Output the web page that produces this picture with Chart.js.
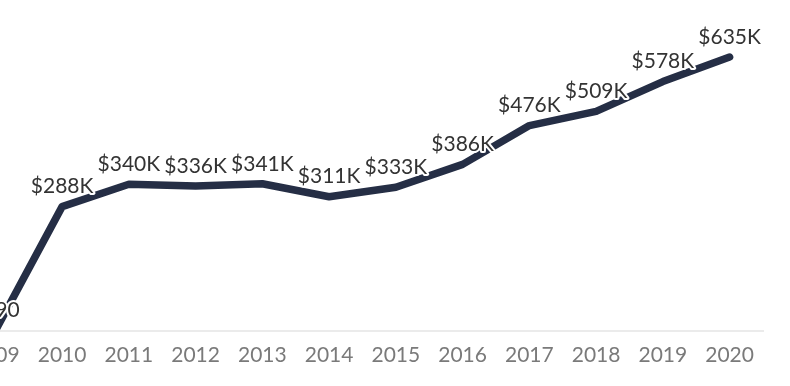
<!DOCTYPE html>
<html>
<head>
<meta charset="utf-8">
<script src="https://cdn.jsdelivr.net/npm/chart.js@4.4.1/dist/chart.umd.min.js"></script>
<style>
  html, body { margin: 0; padding: 0; overflow: hidden; background: #fff; }
  /* the chart is cut off on the left, so the box starts off-screen */
  #wrap { position: absolute; left: -41px; top: 0; width: 832px; height: 386px; }
</style>
</head>
<body>
<div id="wrap"><canvas id="valueChart"></canvas></div>
<script>
// Years on the x axis
const years = ['2009', '2010', '2011', '2012', '2013', '2014', '2015', '2016', '2017', '2018', '2019', '2020'];
// Value per year, in dollars
const values = [190, 288000, 340000, 336000, 341000, 311000, 333000, 386000, 476000, 509000, 578000, 635000];

// Format a value like $288K
function money(v) {
    return v >= 1000 ? '$' + Math.round(v / 1000) + 'K' : '$' + v;
}

// Draw the value labels above each point with a white halo
const valueLabels = {
    id: 'valueLabels',
    afterDatasetsDraw(chart) {
        const ctx = chart.ctx;
        const meta = chart.getDatasetMeta(0);
        ctx.save();
        ctx.font = '21px Lato';
        ctx.textAlign = 'center';
        ctx.textBaseline = 'middle';
        ctx.lineJoin = 'round';
        meta.data.forEach((pt, i) => {
            const text = money(values[i]);
            ctx.strokeStyle = '#fff';
            ctx.lineWidth = 4;
            ctx.strokeText(text, pt.x, pt.y - 20);
            ctx.fillStyle = '#333';
            ctx.fillText(text, pt.x, pt.y - 20);
        });
        ctx.restore();
    }
};

const ctx = document.getElementById('valueChart').getContext('2d');

new Chart(ctx, {
    type: 'line',
    data: {
        labels: years,
        datasets: [{
            data: values,
            borderColor: '#252e45',
            borderWidth: 7.5,
            borderJoinStyle: 'round',
            borderCapStyle: 'round',
            pointRadius: 0,
            tension: 0,
            fill: false
        }]
    },
    options: {
        responsive: true,
        maintainAspectRatio: false,
        animation: false,
        layout: { padding: { left: 0, right: 28, top: 29, bottom: 6 } },
        plugins: {
            legend: { display: false },
            tooltip: { enabled: false }
        },
        scales: {
            x: {
                offset: true,
                grid: { display: false, drawTicks: false },
                border: { display: true, color: '#ebebeb', width: 2 },
                ticks: {
                    color: '#7a7a7a',
                    padding: 12,
                    font: { family: 'Lato', size: 21 },
                    maxRotation: 0,
                    autoSkip: false
                }
            },
            y: {
                display: false,
                min: 0,
                max: 700000
            }
        }
    },
    plugins: [valueLabels]
});
</script>
</body>
</html>
